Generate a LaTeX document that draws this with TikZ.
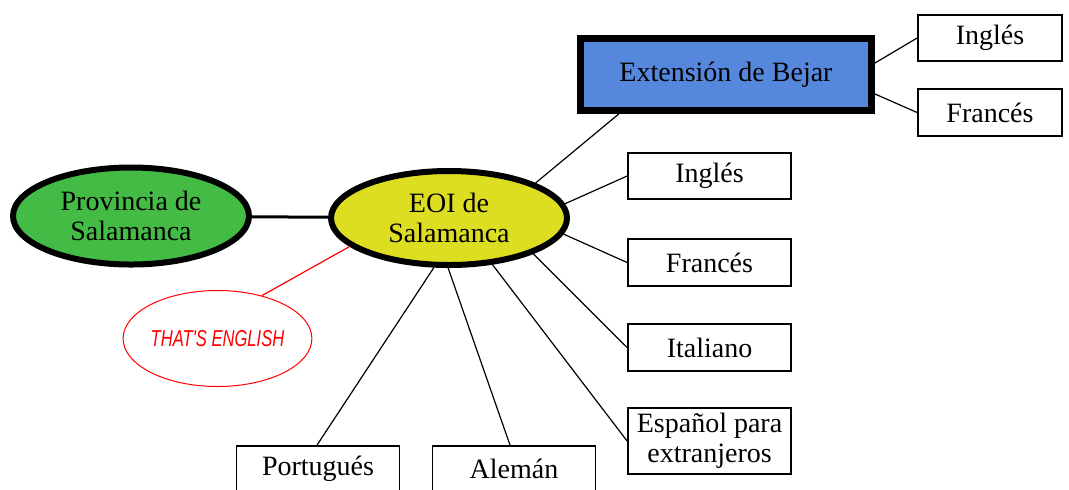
\documentclass[tikz,border=0pt]{standalone}
\usepackage{fontspec}
\setmainfont{Liberation Serif}
\newfontfamily\tefont[FakeStretch=0.72]{Liberation Sans}
\usetikzlibrary{shapes.geometric,calc}

\definecolor{provgreen}{RGB}{68,187,68}
\definecolor{eoiyellow}{RGB}{221,221,34}
\definecolor{bejarblue}{RGB}{85,136,221}

\begin{document}
\begin{tikzpicture}[x=0.5pt,y=-0.5pt,
    font=\fontsize{14}{15}\selectfont,
    bigell/.style={ellipse,draw=black,line width=3pt,inner sep=0pt,align=center},
    langbox/.style={rectangle,draw=black,line width=0.9pt,inner sep=0pt,align=center,
        minimum width=81.5pt,minimum height=23pt},
    link/.style={draw=black,line width=0.6pt}]
        % frame
        \useasboundingbox (0,0) rectangle (1069,489);
        \clip (0,0) rectangle (1069,489);

        % centres
        \node[bigell,fill=provgreen,minimum width=118pt,minimum height=48.5pt] (prov) at (131,216) {Provincia de\\Salamanca};
        \node[bigell,fill=eoiyellow,minimum width=118pt,minimum height=47pt] (eoi) at (449,218) {EOI de\\Salamanca};
        \node[ellipse,draw=red,line width=0.5pt,inner sep=0pt,minimum width=92pt,minimum height=48pt,
            text=red,font=\tefont\itshape\fontsize{11.5}{13}\selectfont] (te) at (217.5,338.5) {THAT'S ENGLISH};
        \node[rectangle,draw=black,fill=bejarblue,line width=3.5pt,inner sep=0pt,
            minimum width=145.5pt,minimum height=36pt] (bejar) at (726,74.5) {Extensión de Bejar};

        % Bejar languages
        \node[langbox,minimum width=72pt] (bing) at (990,38) {Inglés};
        \node[langbox,minimum width=72pt,minimum height=23.5pt] (bfra) at (990,112.5) {Francés};

        % EOI languages
        \node[langbox] (ing) at (709.5,176) {Inglés};
        \node[langbox,minimum height=23.5pt] (fra) at (709.5,262.5) {Francés};
        \node[langbox,minimum height=23.5pt] (ita) at (709.5,347.5) {Italiano};
        \node[langbox,minimum height=33pt] (esp) at (709.5,441) {Español para\\extranjeros};
        \node[langbox] (por) at (318,469) {Portugués};
        \node[langbox] (ale) at (514,469) {Alemán};

        % links
        \draw[black,line width=1.5pt] (prov) -- (eoi);
        \draw[red,line width=0.6pt] (te.44) -- (eoi.-164);
        \draw[link] (eoi.22) -- ($(bejar.south west)!0.14!(bejar.south east)$);
        \draw[link] ([yshift=5.75pt]bejar.east) -- (bing.west);
        \draw[link] ([yshift=-9.75pt]bejar.east) -- (bfra.west);
        \draw[link] (eoi.7.7) -- (ing.west);
        \draw[link] (eoi.-8.7) -- (fra.west);
        \draw[link] (eoi.-23.9) -- (ita.west);
        \draw[link] (eoi.-47.4) -- (esp.west);
        \draw[link] (eoi.-107) -- ([xshift=-0.5pt]por.north);
        \draw[link] (eoi.-91) -- ([xshift=-2pt]ale.north);
\end{tikzpicture}
\end{document}
